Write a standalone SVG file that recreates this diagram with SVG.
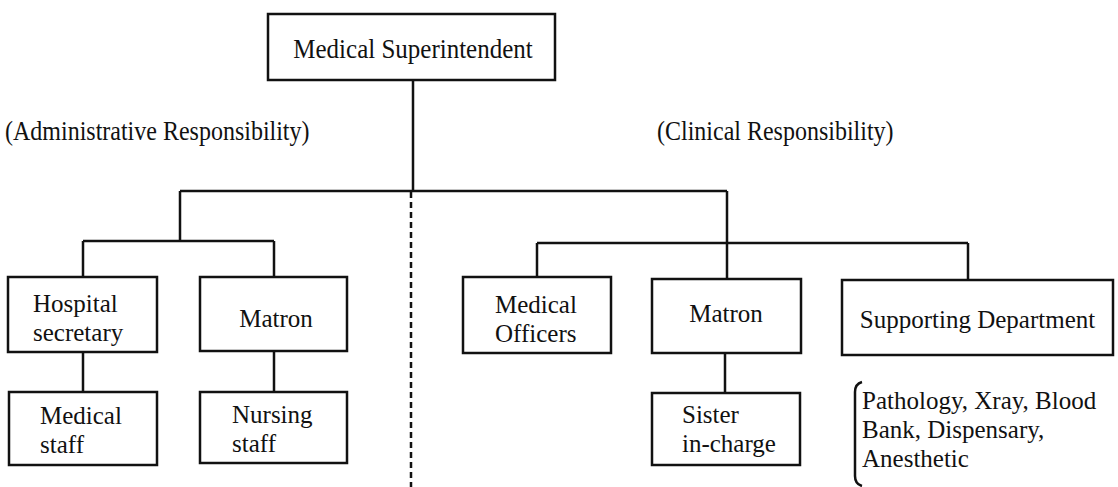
<svg xmlns="http://www.w3.org/2000/svg" width="1118" height="487" viewBox="0 0 1118 487">
<style>
.box{fill:#fff;stroke:#111;stroke-width:2.5}
.ln{fill:none;stroke:#111;stroke-width:2.5}
.dash{fill:none;stroke:#111;stroke-width:2.5;stroke-dasharray:6 4}
text{font-family:"Liberation Serif","Times New Roman",serif;font-size:25px;fill:#111}
.m{text-anchor:middle}
.lbl{font-size:24px}
</style>
<rect width="1118" height="487" fill="#fff"/>
<g id="connectors">
<path class="ln" d="M413 80V191M180 191H727M180 191V241M83 241H274M83 241V277M274 241V277M83 352V392M274 351V392M727 191V279M537 243H968M537 243V277M968 243V280M725 353V393"/>
<path class="dash" d="M411 192V487"/>
<path class="ln" d="M862 382Q855 384 855 392V476Q855 484 862 486"/>
</g>
<g id="superintendent">
<rect class="box" x="268" y="14" width="287" height="66"/>
<text class="m" transform="translate(413,58) scale(1,1.12)">Medical Superintendent</text>
</g>
<g id="label-admin"><text class="lbl" transform="translate(5,140) scale(1,1.1)">(Administrative Responsibility)</text></g>
<g id="label-clinical"><text class="lbl" transform="translate(657,140) scale(1,1.1)">(Clinical Responsibility)</text></g>
<g id="hospital-secretary">
<rect class="box" x="8" y="277" width="149" height="75"/>
<text x="33" y="312">Hospital</text>
<text x="33" y="341">secretary</text>
</g>
<g id="matron-admin">
<rect class="box" x="200" y="277" width="147" height="74"/>
<text class="m" x="276" y="327">Matron</text>
</g>
<g id="medical-staff">
<rect class="box" x="9" y="392" width="148" height="73"/>
<text x="40" y="424">Medical</text>
<text x="40" y="453">staff</text>
</g>
<g id="nursing-staff">
<rect class="box" x="200" y="392" width="147" height="71"/>
<text x="232" y="423">Nursing</text>
<text x="232" y="452">staff</text>
</g>
<g id="medical-officers">
<rect class="box" x="463" y="277" width="148" height="76"/>
<text x="495" y="313">Medical</text>
<text x="495" y="342">Officers</text>
</g>
<g id="matron-clinical">
<rect class="box" x="652" y="279" width="149" height="74"/>
<text class="m" x="726" y="322">Matron</text>
</g>
<g id="sister-in-charge">
<rect class="box" x="652" y="393" width="148" height="72"/>
<text x="682" y="423">Sister</text>
<text x="682" y="452">in-charge</text>
</g>
<g id="supporting-department">
<rect class="box" x="842" y="280" width="271" height="75"/>
<text class="m" x="977.5" y="328">Supporting Department</text>
</g>
<g id="supporting-list">
<text x="862" y="409">Pathology, Xray, Blood</text>
<text x="862" y="438">Bank, Dispensary,</text>
<text x="862" y="467">Anesthetic</text>
</g>
</svg>
